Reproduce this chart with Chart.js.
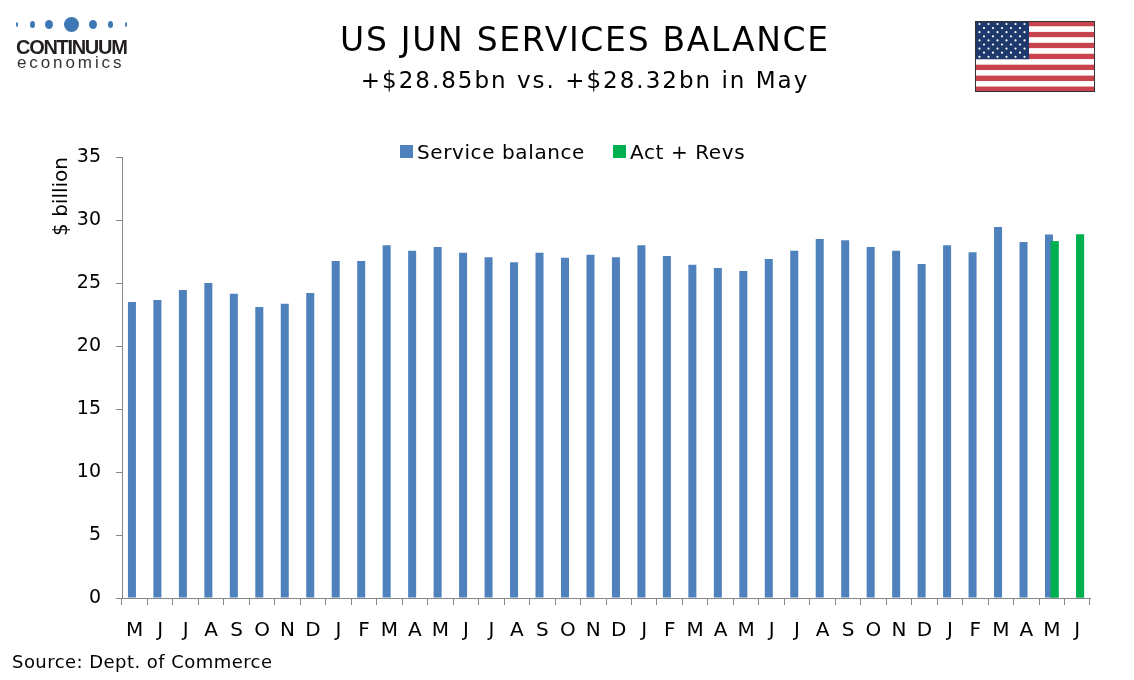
<!DOCTYPE html>
<html>
<head>
<meta charset="utf-8">
<script src="https://cdn.jsdelivr.net/npm/chart.js@4.4.1/dist/chart.umd.min.js"></script>
<style>
  html, body { margin: 0; padding: 0; background: #fff; }
  #app { position: relative; width: 1134px; height: 680px; overflow: hidden; font-family: "DejaVu Sans", Verdana, sans-serif; color: #000; }
  #chartWrap { position: absolute; left: 0; top: 0; width: 1134px; height: 680px; }
  .title { position: absolute; left: 0; width: 1170px; text-align: center; white-space: nowrap; }
  #t1 { top: 20px; font-size: 33px; letter-spacing: 1.7px; }
  #t2 { top: 67px; font-size: 23px; letter-spacing: 2px; }
  #legend { position: absolute; top: 140px; left: 400px; font-size: 20px; letter-spacing: 0.6px; white-space: nowrap; }
  #legend span.box { display: inline-block; width: 13px; height: 13px; margin-right: 4px; vertical-align: 1px; }
  #legend span.item { margin-right: 21px; }
  #source { position: absolute; left: 12px; top: 651px; font-size: 18px; letter-spacing: 0.45px; }
  #logo .dot { position: absolute; background: #3d78b4; border-radius: 50%; }
  #logoTop { position: absolute; left: 16px; top: 36px; font-family: "Liberation Sans", Arial, sans-serif; font-weight: bold; font-size: 20px; letter-spacing: -1.3px; color: #231f20; }
  #logoBot { position: absolute; left: 17px; top: 53px; font-family: "Liberation Sans", Arial, sans-serif; font-size: 17px; letter-spacing: 2.9px; color: #333; }
  #flag { position: absolute; left: 975px; top: 21px; }
</style>
</head>
<body>
<div id="app">
  <div id="chartWrap"><canvas id="servChart"></canvas></div>
  <div id="logo"></div>
  <div id="logoTop">CONTINUUM</div>
  <div id="logoBot">economics</div>
  <div class="title" id="t1">US JUN SERVICES BALANCE</div>
  <div class="title" id="t2">+$28.85bn vs. +$28.32bn in May</div>
  <div id="legend">
    <span class="item"><span class="box" style="background:#4f81bd"></span>Service balance</span>
    <span class="item"><span class="box" style="background:#00b050"></span>Act + Revs</span>
  </div>
  <div id="source">Source: Dept. of Commerce</div>
  <svg id="flag" width="120" height="71" viewBox="0 0 120 71"></svg>
</div>
<script>
// months, May of year 1 to Jun of year 4
const months = ["M","J","J","A","S","O","N","D",
  "J","F","M","A","M","J","J","A","S","O","N","D",
  "J","F","M","A","M","J","J","A","S","O","N","D",
  "J","F","M","A","M","J"];

// $ billion
const serviceBalance = [23.5, 23.65, 24.45, 25.0, 24.15, 23.1, 23.35, 24.2,
  26.75, 26.75, 28.0, 27.55, 27.85, 27.4, 27.05, 26.65, 27.4, 27.0, 27.25, 27.05,
  28.0, 27.15, 26.45, 26.2, 25.95, 26.9, 27.55, 28.5, 28.4, 27.85, 27.55, 26.5,
  28.0, 27.45, 29.45, 28.25, 28.85, null];

const actRevs = [null, null, null, null, null, null, null, null,
  null, null, null, null, null, null, null, null, null, null, null, null,
  null, null, null, null, null, null, null, null, null, null, null, null,
  null, null, null, null, 28.32, 28.85];

const yTicks = [0, 5, 10, 15, 20, 25, 30, 35];

// logo dots
const dots = [[17,2,5],[32,5,7],[49,8,9],[71,15,15],[93,8,9],[110,5,7],[126,2,5]];
const logo = document.getElementById("logo");
dots.forEach(d => {
  const el = document.createElement("div");
  el.className = "dot";
  el.style.left = (d[0] - d[1] / 2) + "px";
  el.style.top = (24 - d[2] / 2) + "px";
  el.style.width = d[1] + "px";
  el.style.height = d[2] + "px";
  logo.appendChild(el);
});

// flag
const svg = document.getElementById("flag");
let flagHtml = "";
const sh = 71 / 13;
for (let i = 0; i < 13; i++) {
  flagHtml += `<rect x="0" y="${i * sh}" width="120" height="${sh + 0.1}" fill="${i % 2 ? '#ffffff' : '#c8434d'}"/>`;
}
flagHtml += `<rect x="0" y="0" width="54" height="${sh * 7}" fill="#1e3a6d"/>`;
for (let r = 0; r < 9; r++) {
  const n = r % 2 ? 5 : 6;
  for (let c = 0; c < n; c++) {
    const x = (r % 2 ? 9 : 4.5) + c * 9;
    const y = 3 + r * 4.1;
    flagHtml += `<circle cx="${x}" cy="${y}" r="1.1" fill="#ffffff"/>`;
  }
}
flagHtml += `<rect x="0.5" y="0.5" width="119" height="70" fill="none" stroke="#333" stroke-width="1"/>`;
svg.innerHTML = flagHtml;

// green bars on top of blue ones
const greenOnTop = {
  id: "greenOnTop",
  afterDatasetsDraw(chart) {
    const meta = chart.getDatasetMeta(1);
    if (meta.visible) meta.controller.draw();
  }
};

const axisGrey = "#868686";
const ctx = document.getElementById("servChart").getContext("2d");
new Chart(ctx, {
  type: "bar",
  data: {
    labels: months,
    datasets: [
      { label: "Service balance", data: serviceBalance, backgroundColor: "#4f81bd",
        categoryPercentage: 0.44, barPercentage: 1.43 },
      { label: "Act + Revs", data: actRevs, backgroundColor: "#00b050",
        categoryPercentage: 0.44, barPercentage: 1.43 }
    ]
  },
  options: {
    responsive: true,
    maintainAspectRatio: false,
    animation: false,
    layout: { padding: { top: 157, left: 0, right: 44, bottom: 34 } },
    plugins: {
      legend: { display: false },
      tooltip: { enabled: false }
    },
    scales: {
      x: {
        grid: { display: true, drawOnChartArea: false, drawTicks: true, tickLength: 7, color: axisGrey, offset: true },
        border: { display: true, color: axisGrey },
        ticks: { color: "#000", font: { family: "DejaVu Sans", size: 20 }, padding: 14, maxRotation: 0, autoSkip: false },
        afterFit(scale) { scale.height = 48; }
      },
      y: {
        min: 0, max: 35,
        afterBuildTicks(scale) { scale.ticks = yTicks.map(v => ({ value: v })); },
        grid: { display: true, drawOnChartArea: false, drawTicks: true, tickLength: 6, color: axisGrey },
        border: { display: true, color: axisGrey },
        ticks: { color: "#000", font: { family: "DejaVu Sans", size: 19 }, padding: 15 },
        title: { display: true, text: "$ billion", align: "end", color: "#000",
          font: { family: "DejaVu Sans", size: 20 }, padding: { top: 50, bottom: 0 } },
        afterFit(scale) { scale.width = 122; }
      }
    }
  },
  plugins: [greenOnTop]
});
</script>
</body>
</html>
